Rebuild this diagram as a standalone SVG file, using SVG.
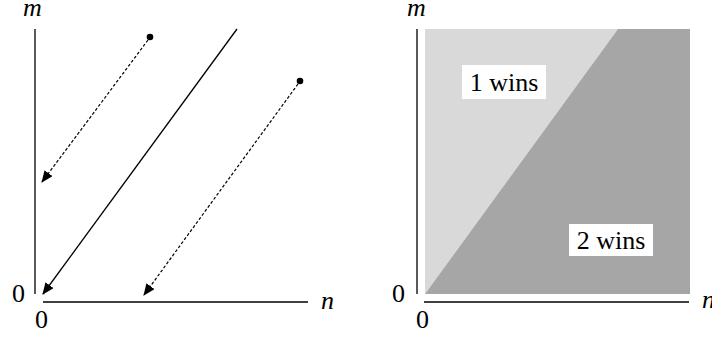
<svg xmlns="http://www.w3.org/2000/svg" width="712" height="337" viewBox="0 0 712 337">
<style>
.ax{stroke:#000;stroke-width:1.3;fill:none}
text{font-family:'Liberation Serif','Times New Roman',Times,serif;font-size:26px;fill:#000}
.i{font-style:italic}
.sol{stroke:#000;stroke-width:1.3;fill:none}
.dsh{stroke:#000;stroke-width:1.2;fill:none;stroke-dasharray:3 2}
.box{fill:#fff}
</style>
<defs>
<marker id="ah" markerWidth="12" markerHeight="10" refX="11" refY="5" orient="auto" markerUnits="userSpaceOnUse">
<path d="M0,0 L12,5 L0,10 Z" fill="#000"/>
</marker>
</defs>
<g id="left-panel">
<g id="left-axes">
<line class="ax" x1="35" y1="29" x2="35" y2="294"/>
<line class="ax" x1="43" y1="302" x2="308" y2="302"/>
<text class="i" x="23" y="16" font-family="Liberation Serif, serif">m</text>
<text class="i" x="321" y="309" font-family="Liberation Serif, serif">n</text>
<text x="12" y="302" font-family="Liberation Serif, serif">0</text>
<text x="35" y="328" font-family="Liberation Serif, serif">0</text>
</g>
<g id="points">
<circle cx="150" cy="37" r="3.3" fill="#000"/>
<circle cx="300" cy="81" r="3.3" fill="#000"/>
</g>
<g id="connectors">
<line class="sol" x1="237" y1="29" x2="43" y2="294" marker-end="url(#ah)"/>
<line class="dsh" x1="148" y1="40" x2="42" y2="182" marker-end="url(#ah)"/>
<line class="dsh" x1="298" y1="84" x2="144" y2="295" marker-end="url(#ah)"/>
</g>
</g>
<g id="right-panel">
<g id="regions">
<polygon points="425,29 618,29 425,294" fill="#d9d9d9"/>
<polygon points="618,29 690,29 690,294 425,294" fill="#a6a6a6"/>
</g>
<g id="right-axes">
<line class="ax" x1="417" y1="29" x2="417" y2="294"/>
<line class="ax" x1="424" y1="302" x2="689" y2="302"/>
<text class="i" x="407" y="16" font-family="Liberation Serif, serif">m</text>
<text class="i" x="702" y="308" font-family="Liberation Serif, serif">n</text>
<text x="392" y="302" font-family="Liberation Serif, serif">0</text>
<text x="416" y="328" font-family="Liberation Serif, serif">0</text>
</g>
<g id="label-1wins">
<rect class="box" x="462" y="65" width="84" height="34"/>
<text x="504" y="91" text-anchor="middle" font-family="Liberation Serif, serif">1 wins</text>
</g>
<g id="label-2wins">
<rect class="box" x="569" y="224" width="84" height="32"/>
<text x="611" y="249" text-anchor="middle" font-family="Liberation Serif, serif">2 wins</text>
</g>
</g>
</svg>
